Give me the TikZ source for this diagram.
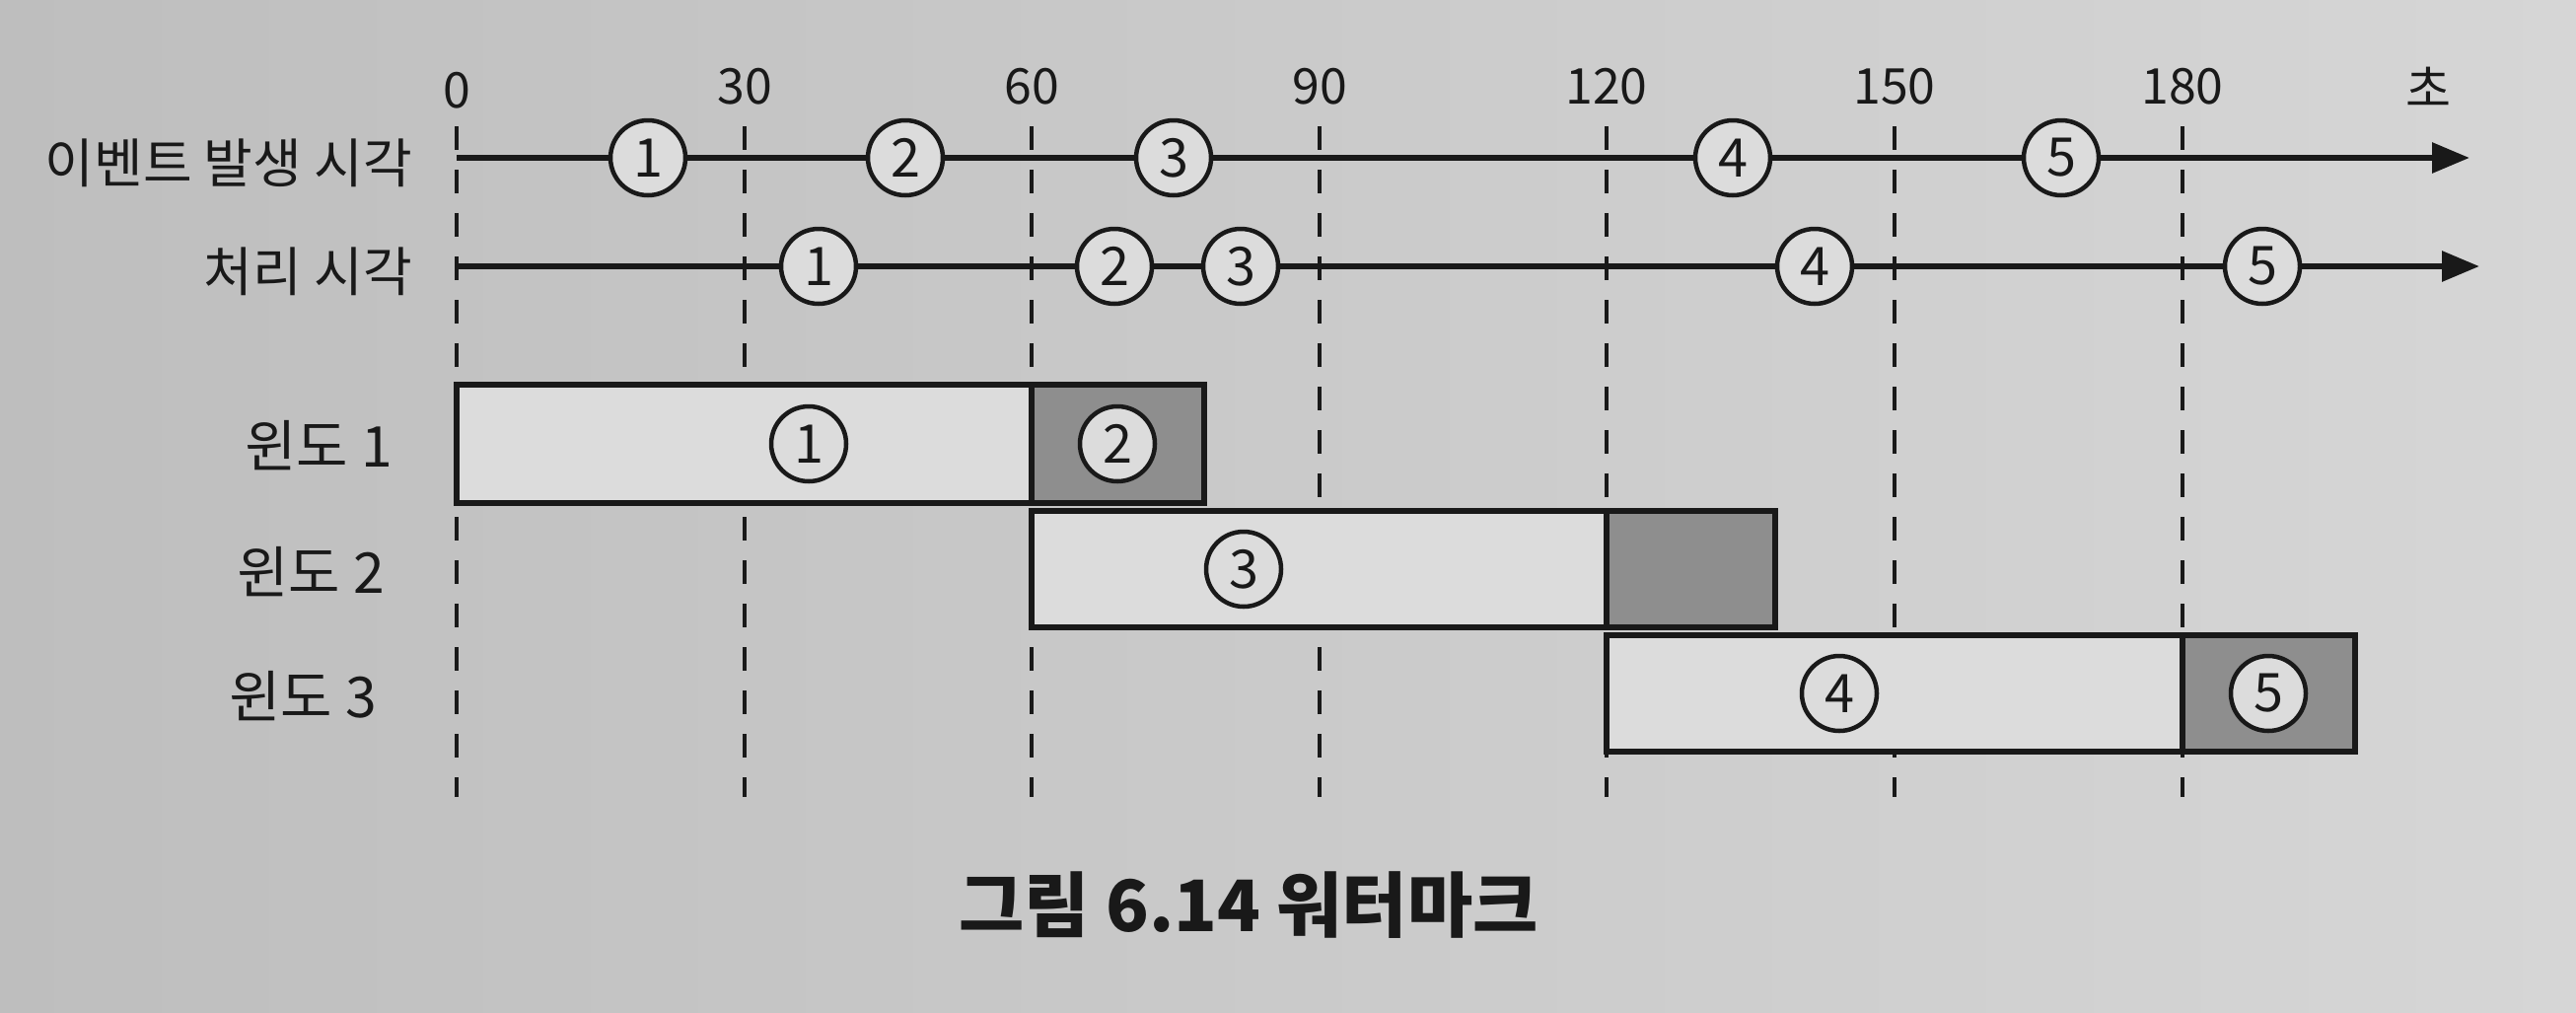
\documentclass[tikz,border=0pt]{standalone}
\usepackage{fontspec}
\setmainfont{Noto Sans CJK KR}
\usetikzlibrary{arrows.meta}
\definecolor{bgL}{RGB}{190,190,190}
\definecolor{bgR}{RGB}{214,214,214}
\definecolor{boxfill}{RGB}{220,220,220}
\definecolor{hatch}{RGB}{142,142,142}
\definecolor{ink}{RGB}{25,25,25}
\begin{document}
\begin{tikzpicture}[x=1pt,y=-1pt,
  axis/.style={line width=6pt, draw=ink},
  gridline/.style={line width=4.5pt, draw=ink, dash pattern=on 24pt off 20pt},
  ev/.style={circle, draw=ink, line width=4.5pt, fill=boxfill, minimum size=76pt, inner sep=0pt, text=ink, font=\fontsize{54}{54}\selectfont},
  ticklab/.style={font=\fontsize{50}{50}\selectfont, text=ink, inner sep=0pt},
  rowlab/.style={font=\fontsize{54}{54}\selectfont, text=ink, anchor=east, inner sep=0pt},
  winlab/.style={font=\fontsize{57}{57}\selectfont, text=ink, anchor=east, inner sep=0pt},
  win/.style={draw=ink, line width=6pt, fill=boxfill},
  late/.style={draw=ink, line width=6pt, fill=hatch},
  tip/.style={-{Triangle[length=38pt,width=30pt]}}
]
\useasboundingbox (0,0) rectangle (2612,1026);
\shade[left color=bgL, right color=bgR] (0,0) rectangle (2612,1026);

% tick labels
\node[ticklab] (l0) at (463,92) {0};
\node[ticklab] (l30) at (755,88) {30};
\node[ticklab] (l60) at (1046,88) {60};
\node[ticklab] (l90) at (1338,88) {90};
\node[ticklab] (l120) at (1629,88) {120};
\node[ticklab] (l150) at (1921,88) {150};
\node[ticklab] (l180) at (2213,88) {180};
\node[ticklab] (unit) at (2462,88) {초};

% dashed grid lines
\foreach \n/\x in {0/463,30/755,60/1046,90/1338,120/1629,150/1921,180/2213}{
  \coordinate (g\n t) at (\x,128);
  \coordinate (g\n b) at (\x,808);
  \draw[gridline] (g\n t) -- (g\n b);
}

% row labels
\node[rowlab] (levent) at (418,165) {이벤트 발생 시각};
\node[rowlab] (lproc) at (418,275) {처리 시각};
\node[winlab] (lw1) at (398,452) {윈도 1};
\node[winlab] (lw2) at (390,580) {윈도 2};
\node[winlab] (lw3) at (382,706) {윈도 3};

% event time line
\coordinate (es) at (463,160);
\coordinate (ee) at (2504,160);
\node[ev] (e1) at (657,160) {1};
\node[ev] (e2) at (918,160) {2};
\node[ev] (e3) at (1190,160) {3};
\node[ev] (e4) at (1757,160) {4};
\node[ev] (e5) at (2090,160) {5};
\draw[axis,tip] (es) -- (e1) -- (e2) -- (e3) -- (e4) -- (e5) -- (ee);

% processing time line
\coordinate (ps) at (463,270);
\coordinate (pe) at (2514,270);
\node[ev] (p1) at (830,270) {1};
\node[ev] (p2) at (1130,270) {2};
\node[ev] (p3) at (1258,270) {3};
\node[ev] (p4) at (1840,270) {4};
\node[ev] (p5) at (2294,270) {5};
\draw[axis,tip] (ps) -- (p1) -- (p2) -- (p3) -- (p4) -- (p5) -- (pe);

% windows
\draw[win] (463,390) rectangle (1046,510);
\draw[late] (1046,390) rectangle (1221,510);
\draw[win] (1046,518) rectangle (1629,636);
\draw[late] (1629,518) rectangle (1800,636);
\draw[win] (1629,644) rectangle (2213,762);
\draw[late] (2213,644) rectangle (2388,762);

\node[ev] (w1) at (820,450) {1};
\node[ev] (w2) at (1133,450) {2};
\node[ev] (w3) at (1261,577) {3};
\node[ev] (w4) at (1865,703) {4};
\node[ev] (w5) at (2300,703) {5};

% caption
\node[font=\fontsize{72}{72}\selectfont\bfseries, text=ink, inner sep=0pt] (cap) at (1266,918) {그림 6.14 워터마크};
\end{tikzpicture}
\end{document}
